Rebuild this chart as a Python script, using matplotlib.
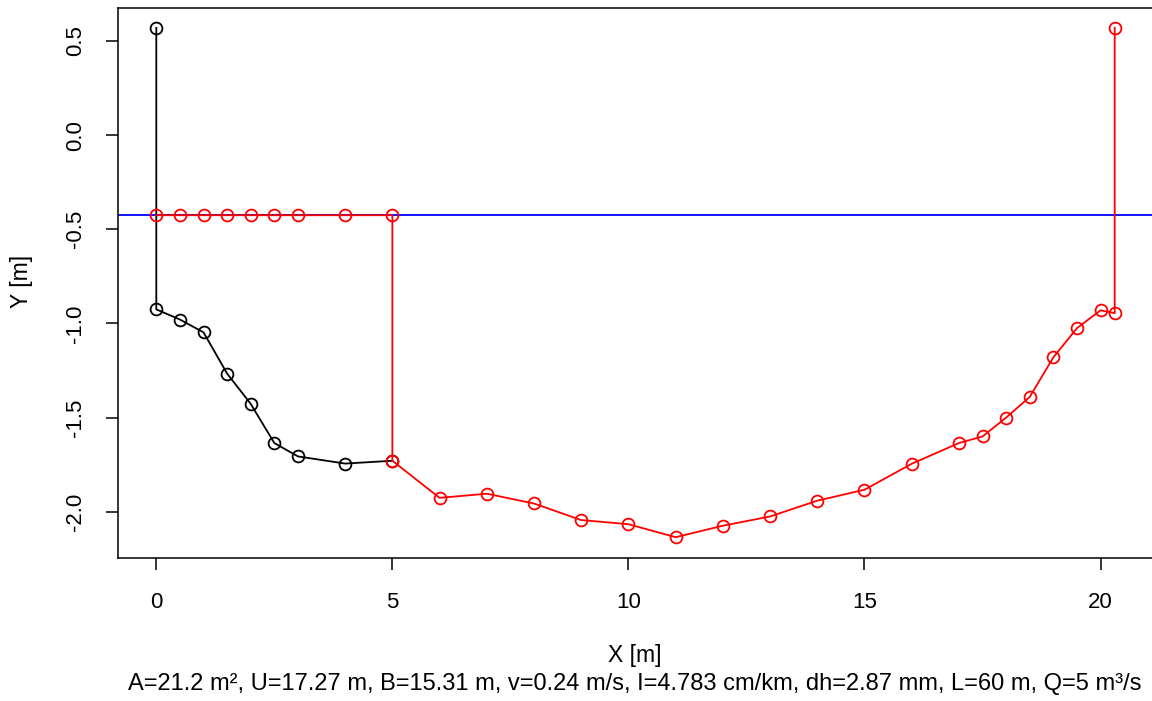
import matplotlib
matplotlib.use("Agg")
import matplotlib.pyplot as plt

plt.rcParams['font.family'] = ['Liberation Sans', 'DejaVu Sans']
plt.rcParams['axes.unicode_minus'] = False

# left bank (black)
x_bank = [0, 0, 0.5, 1, 1.5, 2, 2.5, 3, 4, 5]
y_bank = [0.57, -0.925, -0.979, -1.047, -1.266, -1.427, -1.635, -1.706, -1.744, -1.729]

# wetted section (red)
x_wet = [0, 0.5, 1, 1.5, 2, 2.5, 3, 4, 5, 5, 6, 7, 8, 9, 10, 11, 12, 13, 14, 15,
         16, 17, 17.5, 18, 18.5, 19, 19.5, 20, 20.3, 20.3]
y_wet = [-0.425, -0.425, -0.425, -0.425, -0.425, -0.425, -0.425, -0.425, -0.425,
         -1.729, -1.926, -1.904, -1.956, -2.044, -2.066, -2.135, -2.074, -2.025,
         -1.941, -1.883, -1.745, -1.635, -1.60, -1.50, -1.39, -1.18, -1.025,
         -0.93, -0.945, 0.57]

wasserspiegel = -0.425
xticks = [0, 5, 10, 15, 20]
yticks = [-2.0, -1.5, -1.0, -0.5, 0.0, 0.5]
info = "A=21.2 m², U=17.27 m, B=15.31 m, v=0.24 m/s, I=4.783 cm/km, dh=2.87 mm, L=60 m, Q=5 m³/s"

fig = plt.figure(figsize=(11.52, 7.01), dpi=100)
ax = fig.add_axes([0.1024, 0.2046, 0.8985, 0.7847])

ax.plot(x_bank, y_bank, color='black', lw=1.3, marker='o', ms=8.5,
        mfc='none', mew=1.3)
ax.axhline(wasserspiegel, color='blue', lw=1.3)
ax.plot(x_wet, y_wet, color='red', lw=1.3, marker='o', ms=8.5,
        mfc='none', mew=1.3)

# R style 4% padding
xr = max(x_wet) - min(x_bank)
yr = max(y_bank) - min(y_wet)
ax.set_xlim(min(x_bank) - 0.04 * xr, max(x_wet) + 0.04 * xr)
ax.set_ylim(min(y_wet) - 0.04 * yr, max(y_bank) + 0.04 * yr)

ax.set_xticks(xticks)
ax.set_xticklabels([str(t) for t in xticks])
ax.set_yticks(yticks)
ax.set_yticklabels(['%.1f' % t for t in yticks], rotation=90, va='center')
ax.tick_params(axis='both', labelsize=16, length=8.6, width=1.1, direction='out')
ax.tick_params(axis='x', pad=16)
ax.tick_params(axis='y', pad=14.5)
for s in ax.spines.values():
    s.set_linewidth(1.1)

fig.text(0.551, 0.0656, 'X [m]', fontsize=16.5, ha='center', va='center')
fig.text(0.019, 0.598, 'Y [m]', fontsize=16.5, ha='center', va='center', rotation=90)
fig.text(0.551, 0.0243, info, fontsize=17, ha='center', va='center')

fig.savefig('out.png', dpi=100)
